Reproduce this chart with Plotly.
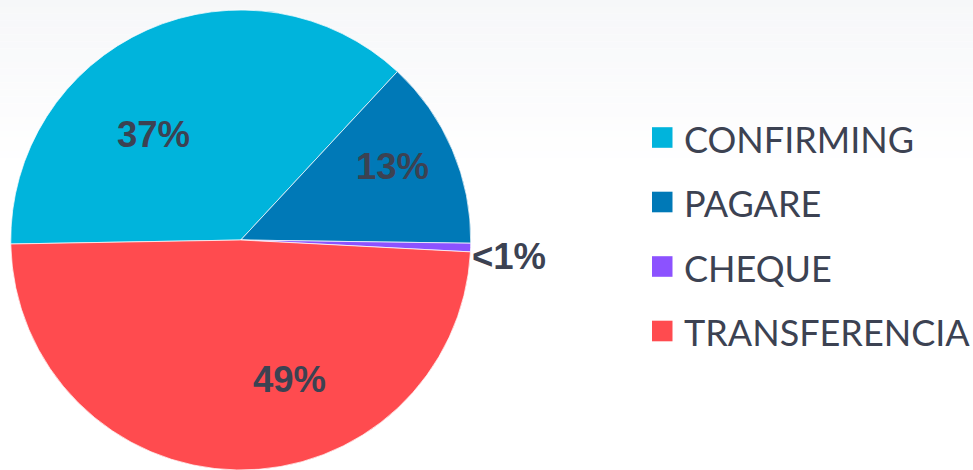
import plotly.graph_objects as go

# ---- data ----
categories = ["CONFIRMING", "PAGARE", "CHEQUE", "TRANSFERENCIA"]
values = [37.2, 13.3, 0.6, 48.9]
label_texts = ["37%", "13%", "<1%", "49%"]
colors = ["#00b4dc", "#0079b7", "#8c52ff", "#ff4b4f"]

W, H = 973, 470
TXT = "#3c4252"

def px(x):
    return x / W

def py(y):
    return 1 - y / H

fig = go.Figure()
fig.add_trace(go.Pie(
    labels=categories,
    values=values,
    sort=False,
    direction="clockwise",
    rotation=-91,
    marker=dict(colors=colors, line=dict(color="rgba(255,255,255,0.7)", width=1)),
    textinfo="none",
    hoverinfo="label+percent",
    showlegend=False,
    domain=dict(x=[px(10.5), px(471)], y=[0, py(10)]),
))

# background gradient at top
shapes = []
n = 24
top_c = (246, 247, 249)
for i in range(n):
    y0 = 165 * i / n
    y1 = 165 * (i + 1) / n
    t = (i + 0.5) / n
    c = tuple(round(top_c[k] + (255 - top_c[k]) * t) for k in range(3))
    shapes.append(dict(type="rect", xref="paper", yref="paper", x0=0, x1=1,
                       y0=py(y1), y1=py(y0), fillcolor="rgb(%d,%d,%d)" % c,
                       line=dict(width=0), layer="below"))

# slice labels
label_pos = [(153.5, 134), (392, 166.5), (508.5, 256.5), (289, 379)]
annotations = []
for txt, (x, y) in zip(label_texts, label_pos):
    annotations.append(dict(text=txt, x=px(x), y=py(y), xref="paper", yref="paper",
                            xanchor="center", yanchor="middle", showarrow=False,
                            font=dict(family="Liberation Sans, Arial", size=36.5, color=TXT,
                                      weight="bold")))

# legend (custom, larger squares)
leg_y = [137.5, 202, 266.5, 331]
for cat, col, y in zip(categories, colors, leg_y):
    shapes.append(dict(type="rect", xref="paper", yref="paper",
                       x0=px(652), x1=px(672.5), y0=py(y + 10.3), y1=py(y - 10.3),
                       fillcolor=col, line=dict(width=0)))
    annotations.append(dict(text=cat, x=px(682), y=py(y + 1), xref="paper", yref="paper",
                            xanchor="left", yanchor="middle", showarrow=False,
                            font=dict(family="Lato", size=36, color=TXT)))

fig.update_layout(
    width=W, height=H,
    margin=dict(l=0, r=0, t=0, b=0),
    paper_bgcolor="white",
    plot_bgcolor="white",
    shapes=shapes,
    annotations=annotations,
)

fig.write_html("out.html", config={"displayModeBar": False},
               post_script="document.body.style.margin='0';document.body.style.overflow='hidden';")
